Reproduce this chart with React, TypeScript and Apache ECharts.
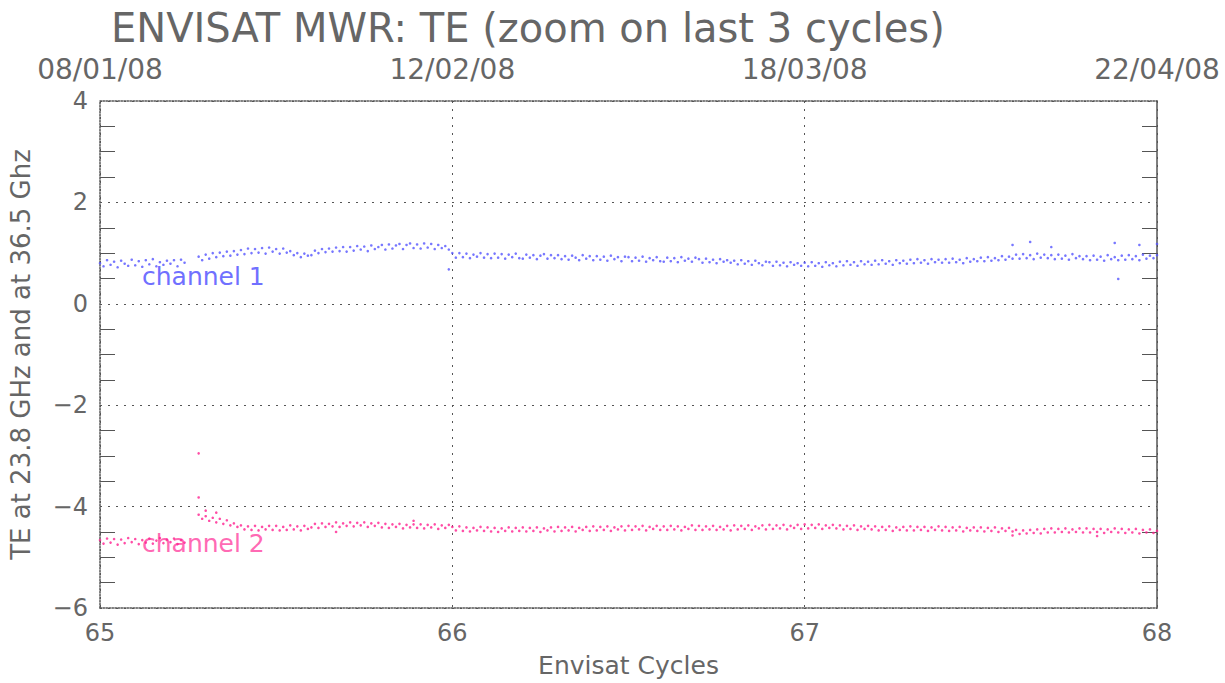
import React, { useEffect, useRef } from "react";
import * as echarts from "echarts";

const cycleStart = 65;
const cycleStep = 0.01;
const cycleTicks = [65, 66, 67, 68];
const dateLabels = ["08/01/08", "12/02/08", "18/03/08", "22/04/08"];

// channel 1 (36.5 GHz) TE, one value per 0.01 cycle starting at 65.00
const channel1 = [
  0.80, 0.74, 0.86, 0.77, 0.83, 0.72, 0.85, 0.79, 0.75, 0.87,
  0.76, 0.84, 0.73, 0.86, 0.78, 0.88, 0.74, 0.82, 0.77, 0.85,
  0.79, 0.86, 0.74, 0.87, 0.81, null, null, null, 0.93, 0.86,
  0.97, 0.89, 1.00, 0.92, 1.01, 0.94, 1.03, 0.95, 1.04, 0.97,
  1.06, 0.98, 1.09, 1.00, 1.08, 1.01, 1.10, 0.99, 1.11, 1.03,
  1.08, 0.99, 1.09, 1.01, 1.04, 0.96, 1.00, 0.92, 0.99, 0.95,
  0.96, 1.05, 1.00, 1.08, 1.02, 1.09, 1.03, 1.11, 1.04, 1.12,
  1.03, 1.12, 1.05, 1.14, 1.07, 1.13, 1.04, 1.15, 1.08, 1.12,
  1.16, 1.07, 1.17, 1.09, 1.15, 1.18, 1.08, 1.16, 1.19, 1.10,
  1.17, 1.09, 1.19, 1.11, 1.18, 1.08, 1.16, 1.10, 1.14, 1.07,
  1.00, 0.91, 1.00, 0.92, 0.99, 0.90, 0.97, 0.93, 1.00, 0.91,
  0.98, 0.90, 0.99, 0.91, 0.98, 0.89, 0.97, 0.92, 0.99, 0.90,
  0.89, 0.97, 0.91, 0.96, 0.88, 0.95, 0.98, 0.89, 0.96, 0.90,
  0.96, 0.88, 0.94, 0.87, 0.95, 0.91, 0.86, 0.96, 0.89, 0.94,
  0.86, 0.94, 0.87, 0.93, 0.85, 0.95, 0.88, 0.92, 0.84, 0.93,
  0.92, 0.84, 0.91, 0.85, 0.93, 0.83, 0.90, 0.86, 0.92, 0.84,
  0.83, 0.91, 0.84, 0.90, 0.82, 0.92, 0.85, 0.89, 0.83, 0.91,
  0.88, 0.81, 0.89, 0.82, 0.87, 0.80, 0.88, 0.83, 0.86, 0.81,
  0.85, 0.78, 0.86, 0.79, 0.84, 0.77, 0.85, 0.80, 0.76, 0.83,
  0.82, 0.75, 0.83, 0.76, 0.81, 0.74, 0.82, 0.77, 0.80, 0.75,
  0.81, 0.74, 0.82, 0.75, 0.80, 0.73, 0.82, 0.76, 0.80, 0.74,
  0.83, 0.76, 0.84, 0.77, 0.82, 0.75, 0.84, 0.78, 0.83, 0.77,
  0.85, 0.78, 0.86, 0.79, 0.84, 0.77, 0.86, 0.80, 0.85, 0.79,
  0.87, 0.80, 0.88, 0.81, 0.86, 0.79, 0.88, 0.82, 0.87, 0.81,
  0.88, 0.81, 0.89, 0.82, 0.87, 0.80, 0.90, 0.83, 0.88, 0.84,
  0.91, 0.84, 0.92, 0.85, 0.90, 0.86, 0.94, 0.87, 0.93, 0.89,
  0.97, 0.89, 0.98, 0.90, 0.96, 0.88, 0.99, 0.91, 0.97, 0.90,
  0.96, 0.88, 0.97, 0.89, 0.95, 0.87, 0.98, 0.90, 0.94, 0.88,
  0.94, 0.86, 0.95, 0.87, 0.93, 0.85, 0.96, 0.88, 0.92, 0.86,
  0.95, 0.87, 0.96, 0.88, 0.94, 0.86, 0.97, 0.89, 0.95, 0.90,
  0.96,
];

// channel 2 (23.8 GHz) TE, one value per 0.01 cycle starting at 65.00
const channel2 = [
  -4.66, -4.73, -4.63, -4.71, -4.64, -4.75, -4.65, -4.72, -4.62, -4.70,
  -4.64, -4.74, -4.66, -4.71, -4.63, -4.73, -4.67, -4.62, -4.72, -4.65,
  -4.70, -4.63, -4.74, -4.66, -4.71, null, null, null, -4.16, -4.24,
  -4.19, -4.28, -4.22, -4.31, -4.24, -4.34, -4.27, -4.37, -4.33, -4.40,
  -4.37, -4.45, -4.39, -4.46, -4.38, -4.47, -4.40, -4.45, -4.38, -4.46,
  -4.38, -4.47, -4.40, -4.46, -4.37, -4.45, -4.39, -4.47, -4.38, -4.44,
  -4.41, -4.34, -4.42, -4.33, -4.40, -4.34, -4.39, -4.31, -4.40, -4.33,
  -4.38, -4.31, -4.39, -4.32, -4.37, -4.31, -4.40, -4.33, -4.38, -4.32,
  -4.41, -4.34, -4.42, -4.35, -4.40, -4.34, -4.43, -4.36, -4.41, -4.35,
  -4.42, -4.35, -4.43, -4.36, -4.41, -4.35, -4.44, -4.37, -4.42, -4.36,
  -4.40, -4.47, -4.39, -4.48, -4.41, -4.49, -4.42, -4.47, -4.40, -4.48,
  -4.41, -4.49, -4.42, -4.50, -4.43, -4.48, -4.41, -4.49, -4.42, -4.48,
  -4.41, -4.49, -4.42, -4.48, -4.41, -4.50, -4.43, -4.47, -4.41, -4.49,
  -4.40, -4.48, -4.41, -4.47, -4.40, -4.49, -4.42, -4.46, -4.40, -4.48,
  -4.39, -4.47, -4.40, -4.46, -4.39, -4.48, -4.41, -4.45, -4.39, -4.47,
  -4.38, -4.46, -4.39, -4.45, -4.38, -4.47, -4.40, -4.44, -4.38, -4.46,
  -4.39, -4.46, -4.38, -4.45, -4.39, -4.47, -4.40, -4.44, -4.37, -4.46,
  -4.38, -4.46, -4.39, -4.45, -4.38, -4.46, -4.40, -4.45, -4.38, -4.47,
  -4.37, -4.45, -4.38, -4.44, -4.37, -4.46, -4.39, -4.43, -4.37, -4.45,
  -4.36, -4.44, -4.37, -4.43, -4.36, -4.45, -4.38, -4.42, -4.36, -4.44,
  -4.35, -4.43, -4.36, -4.42, -4.35, -4.44, -4.37, -4.42, -4.36, -4.43,
  -4.37, -4.45, -4.38, -4.44, -4.37, -4.46, -4.39, -4.44, -4.38, -4.45,
  -4.39, -4.47, -4.40, -4.46, -4.39, -4.48, -4.41, -4.46, -4.40, -4.47,
  -4.39, -4.47, -4.40, -4.46, -4.40, -4.48, -4.41, -4.46, -4.39, -4.47,
  -4.40, -4.48, -4.41, -4.47, -4.40, -4.49, -4.42, -4.47, -4.41, -4.48,
  -4.41, -4.49, -4.42, -4.48, -4.41, -4.50, -4.43, -4.48, -4.42, -4.49,
  -4.46, -4.54, -4.47, -4.53, -4.46, -4.52, -4.45, -4.53, -4.44, -4.51,
  -4.43, -4.51, -4.44, -4.50, -4.43, -4.51, -4.45, -4.50, -4.43, -4.51,
  -4.43, -4.51, -4.44, -4.50, -4.44, -4.52, -4.45, -4.50, -4.43, -4.51,
  -4.44, -4.52, -4.45, -4.51, -4.44, -4.53, -4.46, -4.51, -4.45, -4.52,
  -4.48,
];

// isolated points away from the main bands
const channel1OutlierX = [65.99, 67.59, 67.64, 67.7, 67.88, 67.89, 67.95, 68.0];
const channel1OutlierY = [0.68, 1.16, 1.22, 1.12, 1.2, 0.49, 1.16, 1.18];
const channel2OutlierX = [65.28, 65.28, 65.3, 65.33, 65.67, 65.89, 67.59, 67.83];
const channel2OutlierY = [-2.95, -3.82, -4.08, -4.12, -4.5, -4.28, -4.57, -4.58];

const CH1_COLOR = "#5555ff";
const CH2_COLOR = "#ff2090";
const AXIS_COLOR = "#555555";
const TEXT_COLOR = "#666666";
const FONT = "DejaVu Sans";

function toPoints(values: (number | null)[], extraX: number[], extraY: number[]) {
  const pts: [number, number][] = [];
  values.forEach((v, i) => {
    if (v !== null) pts.push([+(cycleStart + i * cycleStep).toFixed(2), v]);
  });
  extraX.forEach((x, i) => pts.push([x, extraY[i]]));
  return pts;
}

const minus = (v: number) => String(v).replace("-", "\u2212");

export default function App() {
  const ref = useRef<HTMLDivElement>(null);
  useEffect(() => {
    if (!ref.current) return;
    const chart = echarts.init(ref.current, null, { renderer: "svg" });
    const yAxisBase = {
      type: "value",
      min: -6,
      max: 4,
      interval: 2,
      axisTick: { show: false, inside: true },
      minorTick: { show: true, splitNumber: 4, length: 15, lineStyle: { color: AXIS_COLOR, width: 1 } },
      minorSplitLine: { show: false },
    };
    chart.setOption({
      animation: false,
      backgroundColor: "#ffffff",
      title: {
        text: "ENVISAT MWR: TE (zoom on last 3 cycles)",
        left: 106,
        top: 3,
        textStyle: { fontFamily: FONT, fontSize: 40, fontWeight: "normal", color: TEXT_COLOR },
      },
      grid: { left: 100, right: 68, top: 101, bottom: 69, show: false },
      xAxis: [
        {
          type: "value",
          position: "bottom",
          min: 65,
          max: 68,
          interval: 1,
          name: "Envisat Cycles",
          nameLocation: "middle",
          nameGap: 45,
          nameTextStyle: { fontFamily: FONT, fontSize: 25, color: TEXT_COLOR },
          axisLine: { show: true, onZero: false, lineStyle: { color: AXIS_COLOR, type: "dotted", width: 1.5 } },
          axisTick: { show: false },
          axisLabel: { fontFamily: FONT, fontSize: 24, color: TEXT_COLOR, margin: 13, formatter: (v: number) => String(v) },
          splitLine: { show: true, lineStyle: { color: AXIS_COLOR, type: [2, 6], width: 1 } },
        },
        {
          type: "value",
          position: "top",
          min: 65,
          max: 68,
          interval: 1,
          axisLine: { show: true, onZero: false, lineStyle: { color: AXIS_COLOR, type: "dotted", width: 1.5 } },
          axisTick: { show: false },
          splitLine: { show: false },
          axisLabel: {
            fontFamily: FONT,
            fontSize: 28,
            color: TEXT_COLOR,
            margin: 18,
            formatter: (v: number) => dateLabels[cycleTicks.indexOf(Math.round(v))] ?? "",
          },
        },
      ],
      yAxis: [
        {
          ...yAxisBase,
          position: "left",
          name: "TE at 23.8 GHz and at 36.5 Ghz",
          nameLocation: "middle",
          nameGap: 66,
          nameTextStyle: { fontFamily: FONT, fontSize: 26, color: TEXT_COLOR },
          axisLine: { show: true, onZero: false, lineStyle: { color: AXIS_COLOR, type: "dotted", width: 1.5 } },
          axisLabel: { fontFamily: FONT, fontSize: 24, color: TEXT_COLOR, margin: 12, formatter: minus },
          splitLine: { show: true, lineStyle: { color: AXIS_COLOR, type: [2, 6], width: 1 } },
        },
        {
          ...yAxisBase,
          position: "right",
          axisLine: { show: true, onZero: false, lineStyle: { color: AXIS_COLOR, type: "solid", width: 1.5 } },
          axisLabel: { show: false },
          splitLine: { show: false },
        },
      ],
      graphic: [
        { type: "text", left: 142, top: 264, style: { text: "channel 1", fontFamily: FONT, fontSize: 25, fill: "#7070ff" } },
        { type: "text", left: 142, top: 531, style: { text: "channel 2", fontFamily: FONT, fontSize: 25, fill: "#ff6ab4" } },
      ],
      series: [
        {
          type: "scatter",
          name: "channel 1",
          xAxisIndex: 0,
          yAxisIndex: 0,
          symbol: "circle",
          symbolSize: 2.6,
          itemStyle: { color: CH1_COLOR },
          data: toPoints(channel1, channel1OutlierX, channel1OutlierY),
          silent: true,
        },
        {
          type: "scatter",
          name: "channel 2",
          xAxisIndex: 0,
          yAxisIndex: 0,
          symbol: "circle",
          symbolSize: 2.6,
          itemStyle: { color: CH2_COLOR },
          data: toPoints(channel2, channel2OutlierX, channel2OutlierY),
          silent: true,
        },
      ],
    });
    return () => chart.dispose();
  }, []);
  return (
    <div
      ref={ref}
      style={{ position: "absolute", left: 0, top: 0, width: 1225, height: 683 }}
    />
  );
}
